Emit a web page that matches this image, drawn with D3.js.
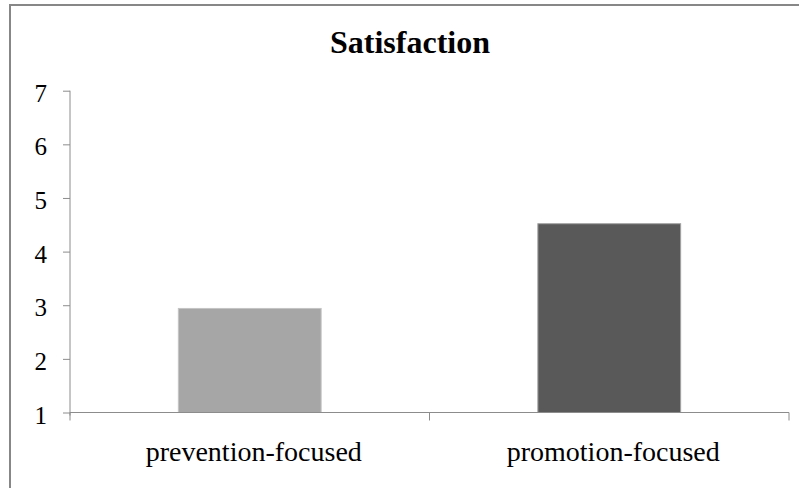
<!DOCTYPE html>
<html>
<head>
<meta charset="utf-8">
<script src="https://cdn.jsdelivr.net/npm/d3@7"></script>
<style>
  html, body { margin: 0; padding: 0; background: #fff; }
  svg { display: block; }
  text { font-family: "Liberation Serif", "Times New Roman", serif; fill: #000; }
</style>
</head>
<body>
<svg id="chart" width="799" height="488"></svg>
<script>
// Chart data
const categories = ["prevention-focused", "promotion-focused"];
const satisfaction = [2.94, 4.52];
const barColors = ["#a6a6a6", "#595959"];
const barStrokes = ["#c4c4c4", "#a3a3a3"];
const yTicks = [1, 2, 3, 4, 5, 6, 7];
const chartTitle = "Satisfaction";

const svg = d3.select("#chart");
const W = 799, H = 488;
const margin = { left: 70, right: 10, top: 90.7, bottom: 75.5 };

// Outer chart frame
svg.append("rect")
  .attr("x", 10).attr("y", 5)
  .attr("width", 800).attr("height", 500)
  .attr("fill", "none")
  .attr("stroke", "#878787")
  .attr("stroke-width", 2);

const x = d3.scaleBand()
  .domain(categories)
  .range([margin.left, W - margin.right])
  .paddingInner(0.6)
  .paddingOuter(0.3);

const xCat = d3.scaleBand()
  .domain(categories)
  .range([margin.left, W - margin.right]);

const y = d3.scaleLinear()
  .domain([1, 7])
  .range([H - margin.bottom, margin.top]);

// Title
svg.append("text")
  .attr("x", 410).attr("y", 53)
  .attr("text-anchor", "middle")
  .attr("font-size", 32)
  .attr("font-weight", "bold")
  .text(chartTitle);

// Bars
svg.append("g").selectAll("rect")
  .data(categories)
  .join("rect")
  .attr("x", d => x(d) + 0.5)
  .attr("y", (d, i) => y(satisfaction[i]))
  .attr("width", x.bandwidth() - 1)
  .attr("height", (d, i) => y(1) - y(satisfaction[i]))
  .attr("fill", (d, i) => barColors[i])
  .attr("stroke", (d, i) => barStrokes[i])
  .attr("stroke-width", 1);

// Y axis
const yAxis = svg.append("g")
  .attr("transform", `translate(${margin.left},0)`)
  .call(d3.axisLeft(y).tickValues(yTicks).tickFormat(d3.format("d")).tickSize(7).tickPadding(16).tickSizeOuter(0));
yAxis.select(".domain").attr("stroke", "#8c8c8c").attr("d", `M0,${y(7)}V${y(1) + 3}`);
yAxis.selectAll(".tick line").attr("stroke", "#8c8c8c");
yAxis.selectAll(".tick text")
  .attr("font-size", 25)
  .attr("dy", "0.42em")
  .attr("fill", "#000");

// X axis with category divider ticks
const xAxis = svg.append("g")
  .attr("transform", `translate(0,${y(1)})`);
xAxis.append("line")
  .attr("x1", margin.left).attr("x2", W - margin.right)
  .attr("stroke", "#8c8c8c");
const dividers = [margin.left, ...categories.map(c => xCat(c) + xCat.bandwidth())];
xAxis.selectAll("line.div")
  .data(dividers)
  .join("line")
  .attr("class", "div")
  .attr("x1", d => d).attr("x2", d => d)
  .attr("y1", 0).attr("y2", 8)
  .attr("stroke", "#8c8c8c");
xAxis.selectAll("text")
  .data(categories)
  .join("text")
  .attr("x", d => xCat(d) + xCat.bandwidth() / 2 + 4)
  .attr("y", 48.5)
  .attr("text-anchor", "middle")
  .attr("font-size", 28)
  .text(d => d);
</script>
</body>
</html>
